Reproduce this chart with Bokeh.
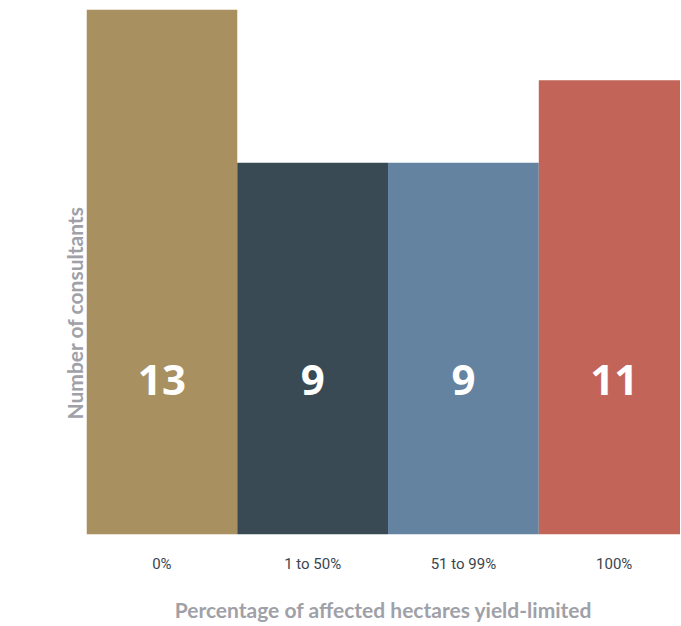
from bokeh.plotting import figure
from bokeh.models import ColumnDataSource, Range1d, FixedTicker, Title
from bokeh.core.properties import value
from bokeh.embed import file_html
from bokeh.resources import INLINE

categories = ["0%", "1 to 50%", "51 to 99%", "100%"]
counts = [13, 9, 9, 11]
colors = ["#A89060", "#3A4A55", "#6383A1", "#C26458"]

xs = [i + 0.5 for i in range(len(categories))]
label_y = 3.73

src = ColumnDataSource(dict(x=xs, top=counts, color=colors,
                            txt=[str(c) for c in counts],
                            ly=[label_y] * len(counts)))

p = figure(width=680, height=624, output_backend="svg", toolbar_location=None,
           x_range=Range1d(0, 3.94), y_range=Range1d(0, 12.71),
           min_border_left=86, min_border_right=0, min_border_top=9,
           min_border_bottom=90)
p.outline_line_color = None
p.xgrid.visible = False
p.ygrid.visible = False

p.vbar(x="x", top="top", bottom=0, width=1.0, color="color", line_color=None, source=src)
p.text(x="x", y="ly", text="txt", source=src, text_color="white",
       text_font=value("Open Sans"), text_font_style="bold", text_font_size="42px",
       text_align="center", text_baseline="middle")

# y axis drawn empty: it only spaces the rotated title away from the bars
ya = p.yaxis[0]
ya.ticker = FixedTicker(ticks=[0])
ya.major_label_overrides = {0: " "}
ya.major_label_text_color = None
ya.axis_line_color = None
ya.major_tick_line_color = None
ya.minor_tick_line_color = None
ya.major_tick_out = 0
ya.major_label_standoff = 49

xa = p.xaxis[0]
xa.ticker = FixedTicker(ticks=xs)
xa.major_label_overrides = {x: c for x, c in zip(xs, categories)}
xa.axis_line_color = None
xa.major_tick_line_color = None
xa.minor_tick_line_color = None
xa.major_label_standoff = 14
xa.major_label_text_font = "Roboto"
xa.major_label_text_font_size = "15px"
xa.major_label_text_color = "#3A4550"
xa.axis_label = "Percentage of affected hectares yield-limited"
xa.axis_label_text_font = "Lato"
xa.axis_label_text_font_style = "bold"
xa.axis_label_text_font_size = "21px"
xa.axis_label_text_color = "#A0A1A8"
xa.axis_label_standoff = 21

ytitle = Title(text="Number of consultants", align="left", offset=115,
               standoff=0, text_font="Lato",
               text_font_style="bold", text_font_size="21px", text_color="#A0A1A8")
p.add_layout(ytitle, "left")

open("out.html", "w").write(file_html(p, INLINE))
